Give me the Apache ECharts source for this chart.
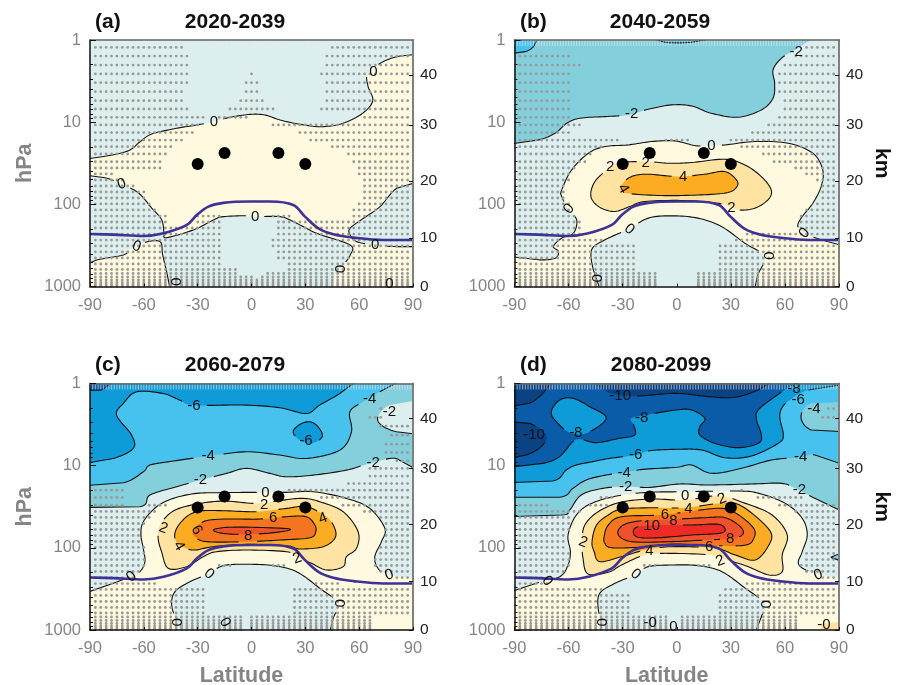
<!DOCTYPE html>
<html><head><meta charset="utf-8">
<style>html,body{margin:0;padding:0;background:#fff}#c{width:903px;height:685px}</style>
<script src="https://cdn.jsdelivr.net/npm/echarts@6/dist/echarts.min.js"></script></head>
<body><div id="c"></div>
<script>
// ---- axis content ----
const LAT_TICKS=[-90,-60,-30,0,30,60,90];
const HPA_TICKS=[1,10,100,1000];
const HPA_MINOR=[2,3,4,5,6,7,8,9,20,30,40,50,60,70,80,90,200,300,400,500,600,700,800,900];
const KM_TICKS=[0,10,20,30,40];
const KM_HPA=[1000,256,52,10.8,2.67];
const PERIODS=['2020-2039','2040-2059','2060-2079','2080-2099'];
const TAGS=['(a)','(b)','(c)','(d)'];
// ---- contour band colours ----
const C={pale:'#DCEFEE',yel:'#FFF9DF',o2:'#FEE3A2',o4:'#FBAC22',o6:'#F5741F',o8:'#F0502A',o10:'#EE2A26',
 t2:'#84CFDC',s4:'#47C2EF',b6:'#0F9BD8',d8:'#0A5BA8',d10:'#0B4282'};
// ---- shared markers: [lat], [hPa] ----
const DOT_LAT=[-30,-15,15,30];
const DOT_HPA=[32.3,23.7,23.7,32.3];
// tropopause [lat, log10 hPa]
const tropopause=[[-90,2.361],[-77,2.369],[-60,2.385],[-49,2.353],[-36,2.251],[-30.5,2.13],[-24,2.028],[-15.7,1.982],[-0.8,1.966],[10.3,1.966],[23.3,2.008],[29.8,2.15],[37.3,2.292],[45.6,2.365],[56.8,2.405],[73.5,2.434],[90,2.434]];
// ---- contours, [lat, log10 hPa] ----
const TL=[-93,-0.03],TR=[93,-0.03],BL=[-93,3.03],BR=[93,3.03];
// panel a
const a_top=[[-93,1.452],[-80.7,1.412],[-68.6,1.347],[-62,1.237],[-55.6,1.144],[-41.7,1.075],[-30.5,1.034],[-21,.994],[-12,.941],[-.8,.905],[7.5,.913],[16,.974],[27,1.026],[39,1.055],[51,1.014],[62,.89],[67.6,.739],[65,.568],[64.4,.426],[69,.325],[75.4,.243],[83,.195],[93,.174],TR,TL];
const a_low=[[-93,1.643],[-81.6,1.676],[-72.3,1.756],[-63,1.862],[-55.6,2.045],[-50,2.19],[-48.7,2.35],[-47.3,2.405],[-32.4,2.312],[-21.2,2.19],[-15.7,2.15],[-.8,2.138],[2,2.15],[15.9,2.15],[23.3,2.21],[36.4,2.353],[55,2.495],[55,2.616],[51.2,2.738],[46.6,2.86],[44.7,3.03],[-45.4,3.03],[-46.9,2.86],[-49.5,2.616],[-51,2.454],[-59.4,2.462],[-66.8,2.535],[-71.4,2.616],[-86.3,2.677],[-93,2.738]];
const a_right=[[54.9,2.292],[62.4,2.17],[71.6,2.028],[80.9,1.805],[93,1.724],[93,2.515],[80.9,2.515],[68.9,2.495],[58.6,2.454],[55,2.373]];
// panel b
const b_m2=[[-93,1.269],[-76.7,1.216],[-67.5,1.135],[-61,1.013],[-53.7,.952],[-39.8,.932],[-26.9,.912],[-15.8,.843],[-2.9,.79],[8.2,.803],[19.2,.892],[34,.94],[46.9,.851],[53.4,.709],[54.3,.527],[53.4,.365],[58,.223],[65.3,.122],[76.4,-.03],TL];
const b_m4a=[[-93,.17],[-84.1,.142],[-79.5,.081],[-76.7,-.03],TL];
const b_m4b=[[-15.8,-.03],[-6.6,.028],[8.2,.028],[22.9,-.03]];
const b_0=[[-63.8,1.824],[-58.3,1.581],[-49,1.378],[-39.8,1.297],[-26.9,1.277],[-14,1.236],[-1.1,1.228],[11.8,1.289],[26.6,1.277],[43.2,1.236],[61.7,1.256],[75.5,1.378],[81,1.581],[80.1,1.783],[75.5,1.986],[69,2.168],[67.2,2.27],[70.9,2.351],[80.1,2.432],[93,2.51],BR,[43.2,3.03],[45,2.857],[48.7,2.634],[37.7,2.472],[24.8,2.27],[11.8,2.168],[-2.9,2.14],[-15.8,2.168],[-26.9,2.302],[-39.8,2.432],[-47.2,2.553],[-46.3,2.797],[-42.6,3.03],BL,[-93,2.634],[-76.7,2.675],[-67.5,2.655],[-65.6,2.574],[-68.4,2.513],[-63.8,2.411],[-57.3,2.351],[-55.5,2.189],[-60.1,2.067],[-63.8,1.905]];
const b_2=[[-47.7,1.864],[-45.4,1.723],[-39.8,1.601],[-32.4,1.5],[-17.7,1.479],[-4.8,1.5],[8.2,1.491],[26.6,1.451],[37.7,1.52],[46.9,1.662],[52.4,1.824],[50.6,1.945],[43.2,2.047],[34,2.067],[24.8,1.994],[4.5,1.954],[-17.7,1.966],[-26,2.027],[-34.3,2.087],[-41.7,2.047],[-46.3,1.966]];
const b_4=[[-31.1,1.804],[-26.9,1.682],[-17.7,1.633],[.8,1.662],[15.5,1.633],[26.6,1.601],[33.1,1.702],[33.4,1.783],[28.4,1.856],[13.7,1.885],[-8.5,1.893],[-27.8,1.864]];
// panel c
const c_m2=[[-93,1.508],[-62.2,1.5],[-56.6,1.358],[-41.7,1.256],[-28.4,1.175],[-13.9,1.094],[-2.8,1.033],[10.2,1.094],[19.5,1.135],[34.4,1.115],[52.9,1.054],[65.9,.973],[80.8,.912],[93,1.06],TR,TL];
const c_m2hole=[[93,.2],[77,.263],[70.5,.405],[72.4,.507],[80.8,.588],[93,.62]];
const c_m4=[[-93,1.244],[-71.4,1.208],[-60.3,1.074],[-56.6,.993],[-43.6,.944],[-24.1,.884],[-2.8,.831],[15.8,.871],[30.6,.912],[49.2,.811],[55.7,.588],[54.8,.345],[62.2,.223],[71.5,.101],[82.6,-.03],TL];
const c_m6=[[-93,.973],[-77,.912],[-65.9,.79],[-66.8,.628],[-75.2,.385],[-71.4,.243],[-64,.101],[-49.2,.122],[-39.9,.203],[-32.5,.263],[-2.8,.263],[15.8,.296],[30.6,.365],[38,.263],[49.2,.122],[58.5,-.03],TL];
const c_m6b=[[23.2,.588],[26.9,.499],[32.5,.466],[37.1,.527],[39.4,.648],[33.4,.73],[26.9,.689]];
const c_m8=[[-93,.081],[-84.4,.081],[-79.8,.02],[-77.9,-.03],TL];
const c_0=[[-93,2.553],[-77,2.432],[-67.7,2.351],[-62.2,2.29],[-59.4,2.168],[-60.3,2.006],[-61.6,1.844],[-60.3,1.682],[-52.9,1.5],[-43.6,1.398],[-30.6,1.337],[-15.8,1.329],[-2.8,1.325],[8.4,1.325],[19.5,1.325],[34.4,1.317],[52.9,1.398],[65.9,1.52],[74.3,1.763],[72.4,1.925],[68.7,2.108],[70.5,2.249],[76.1,2.33],[93,2.38],BR,[43.6,3.03],[45.5,2.857],[48.3,2.675],[38.1,2.493],[25.1,2.29],[12.1,2.217],[-2.8,2.2],[-15.8,2.217],[-24.2,2.318],[-34.3,2.412],[-42.6,2.533],[-44.5,2.695],[-41.7,2.898],[-39.9,3.03],BL];
const c_2=[[-52,1.885],[-51,1.723],[-43.6,1.552],[-31.5,1.471],[-15.8,1.431],[2.8,1.459],[17.6,1.419],[28.8,1.398],[38.1,1.439],[51.1,1.56],[59.4,1.804],[58.5,2.006],[52.9,2.108],[51.1,2.229],[41.8,2.27],[33.4,2.189],[25.1,2.108],[19.5,2.047],[-2.8,2.027],[-19.5,2.047],[-26.9,2.108],[-36.2,2.229],[-46.4,2.249],[-50.1,2.047]];
const c_4=[[-42.7,1.885],[-41.7,1.763],[-36.2,1.621],[-28.8,1.552],[-15.8,1.548],[2.8,1.56],[19.5,1.52],[30.6,1.5],[41.8,1.621],[46.4,1.763],[46.4,1.885],[39.9,1.986],[26.9,2.014],[19.5,1.974],[-2.8,1.958],[-21.3,1.986],[-32.5,2.027],[-39.9,1.966]];
const c_6=[[-32.5,1.804],[-26.9,1.682],[-15.8,1.65],[4.7,1.65],[19.5,1.621],[30.6,1.621],[35.3,1.723],[35.8,1.804],[32.5,1.877],[15.8,1.905],[-2.8,1.925],[-25,1.925],[-31.5,1.864]];
const c_8=[[-21.3,1.783],[-13.9,1.751],[2.8,1.751],[21.4,1.771],[13.9,1.812],[-2.8,1.836],[-15.8,1.824]];
// panel d
const d_m2=[[-93,1.621],[-64,1.601],[-59.4,1.54],[-53,1.357],[-41,1.276],[-28,1.256],[-15,1.264],[1.7,1.223],[17.4,1.235],[41.5,1.223],[58.2,1.215],[65.6,1.276],[74.8,1.377],[93,1.57],TR,TL];
const d_m4=[[-93,1.385],[-65,1.385],[-57.6,1.276],[-50.2,1.174],[-39.1,1.114],[-28.9,1.085],[-18.7,1.045],[-.2,1.02],[8.2,.992],[19.3,1.093],[35.9,1.032],[52.6,.931],[68.3,.899],[76.7,.87],[93,.992],TR,TL];
const d_m4b=[[93,.221],[74.8,.241],[68.9,.404],[74.8,.566],[93,.586]];
const d_m6=[[-93,1.207],[-68.7,1.187],[-61.3,1.053],[-55.7,.992],[-46.5,.951],[-37.2,.911],[-22.4,.87],[-15,.818],[-.2,.801],[13.7,.809],[26.7,.903],[41.5,.882],[56.3,.728],[59.1,.627],[57.2,.424],[58.2,.302],[62.8,.2],[73,.079],[93,.01],TR,TL];
const d_m8=[[-93,1.02],[-74.3,.972],[-65,.89],[-57.6,.708],[-53,.68],[-44.6,.72],[-31.7,.667],[-23.3,.627],[-23.9,.505],[-25.2,.424],[-15,.375],[-.2,.322],[8.2,.322],[15.6,.424],[12.8,.525],[12.8,.627],[21.1,.728],[34,.781],[45.2,.728],[47,.627],[44.3,.444],[45.2,.322],[54.5,.16],[62.8,.039],[69,-.03],TL];
const d_m10a=[[-93,.282],[-81.7,.241],[-74.3,.12],[-68.7,-.03],TL];
const d_m10b=[[-48.3,-.03],[-39,.1],[-29.8,.148],[-20.5,.152],[-.2,.12],[17.4,.16],[32.2,.168],[45.2,.079],[53.5,-.03]];
const d_m10c=[[-93,.465],[-81.7,.485],[-72.4,.627],[-75.2,.769],[-83.5,.87],[-93,.91]];
const d_m6b=[[-69.6,.343],[-65,.201],[-57.6,.18],[-48.3,.282],[-39.1,.424],[-50.2,.606],[-59.4,.598],[-66.8,.465]];
const d_0=[[-93,2.541],[-77.9,2.432],[-64.9,2.351],[-60.3,2.209],[-59,2.047],[-60.3,1.844],[-55.7,1.601],[-47.3,1.459],[-32.5,1.366],[-15.8,1.325],[4.7,1.317],[34.4,1.309],[45.5,1.337],[60.3,1.459],[69.6,1.641],[72.4,1.844],[69.6,2.047],[67.8,2.209],[78,2.322],[93,2.379],BR,[43.6,3.03],[47.3,2.817],[48.8,2.675],[38.1,2.493],[25.1,2.29],[12.1,2.217],[-2.8,2.209],[-15.8,2.229],[-23.2,2.33],[-34.3,2.432],[-42.7,2.553],[-43.6,2.736],[-41.7,2.898],[-39.9,3.03],BL];
const d_2=[[-52.5,1.925],[-51,1.723],[-43.6,1.56],[-31.5,1.447],[-13.9,1.406],[4.7,1.419],[23.2,1.366],[38.1,1.459],[52.9,1.601],[61.3,1.844],[58.5,2.087],[58.5,2.29],[51.1,2.33],[38.1,2.217],[25.1,2.128],[19.5,2.087],[-2.8,2.067],[-17.6,2.087],[-30.6,2.209],[-38,2.298],[-49.2,2.318],[-52,2.128]];
const d_4=[[-47,1.925],[-44.5,1.723],[-38,1.601],[-30.6,1.528],[-13.9,1.512],[4.7,1.512],[23.2,1.459],[32.5,1.459],[41.8,1.581],[52,1.804],[51.1,1.966],[43.6,2.148],[32.5,2.087],[21.4,2.006],[-2.8,1.986],[-17.6,2.027],[-30.6,2.108],[-42.7,2.168],[-45.8,2.047]];
const d_6=[[-40.3,1.864],[-38,1.723],[-30.6,1.621],[-8.3,1.601],[8.4,1.552],[25.1,1.52],[34.4,1.601],[42.7,1.763],[42.7,1.885],[38.1,1.966],[21.4,1.974],[-2.8,1.954],[-21.3,1.994],[-36.2,1.998],[-39.9,1.945]];
const d_8=[[-32.5,1.836],[-29.7,1.723],[-19.5,1.67],[-2.8,1.654],[15.8,1.633],[26.9,1.633],[35.3,1.743],[36.6,1.836],[30.6,1.885],[15.8,1.905],[-2.8,1.925],[-25,1.925]];
const d_10=[[-24.1,1.804],[-21.3,1.743],[-8.3,1.722],[8.4,1.722],[23.2,1.714],[26.9,1.783],[23.2,1.824],[8.4,1.844],[-10.2,1.877],[-21.3,1.872]];
const d_br=[[78.9,3.03],[80.7,2.918],[93,2.898],BR];
const d_rb=[[85.4,2.116],[93,2.047],[93,2.176]];
// layers: [band under the page, fill colour, contour]
const BASE=[C.yel,C.pale,C.pale,C.pale];
const LAYERS=[
 [[C.pale,a_top],[C.pale,a_low],[C.pale,a_right]],
 [[C.t2,b_m2],[C.s4,b_m4a],[C.s4,b_m4b],[C.yel,b_0],[C.o2,b_2],[C.o4,b_4]],
 [[C.t2,c_m2],[C.pale,c_m2hole],[C.s4,c_m4],[C.b6,c_m6],[C.b6,c_m6b],[C.d8,c_m8],[C.yel,c_0],[C.o2,c_2],[C.o4,c_4],[C.o6,c_6],[C.o8,c_8]],
 [[C.t2,d_m2],[C.s4,d_m4],[C.t2,d_m4b],[C.b6,d_m6],[C.d8,d_m8],[C.d10,d_m10a],[C.d10,d_m10b],[C.d10,d_m10c],[C.b6,d_m6b],[C.yel,d_0],[C.o2,d_br],[C.t2,d_rb],[C.o2,d_2],[C.o4,d_4],[C.o6,d_6],[C.o8,d_8],[C.o10,d_10]]
];
// ---- contour labels: [lat, log10 hPa, text, rotation] ----
const labelsA=[[-21,.994,'0',0],[68,.385,'0',0],[-72.3,1.756,'0',-20],[-64,2.515,'0',20],[-42.6,2.941,'0',90],[2,2.15,'0',0],[49,2.787,'0',90],[68.9,2.495,'0',0],[76.9,2.97,'0',0]];
const labelsB=[[66.3,.142,'-2',0],[-25,.904,'-2',0],[19.2,1.285,'0',0],[-37,1.548,'2',0],[-17.3,1.5,'2',0],[3.5,1.662,'4',0],[-29.7,1.812,'4',60],[30.3,2.047,'2',0],[-59.7,2.055,'0',-50],[-26.3,2.302,'0',40],[70.9,2.351,'0',-50],[50.6,2.626,'0',90],[-44.8,2.9,'0',90]];
const labelsC=[[-32.1,.272,'-6',0],[30.3,.697,'-6',0],[65.9,.182,'-4',0],[76.8,.345,'-2',0],[-24.2,.884,'-4',0],[67.8,.965,'-2',0],[-28.4,1.175,'-2',0],[7.8,1.337,'0',0],[7.1,1.471,'2',0],[-49.2,1.763,'2',20],[-30.6,1.783,'6',60],[12.1,1.633,'6',0],[39.9,1.641,'4',-20],[-1.8,1.856,'8',0],[-40.4,1.978,'4',60],[25.5,2.128,'2',-20],[-66.8,2.351,'0',-40],[-23.6,2.318,'0',40],[76.7,2.33,'0',-20],[48.8,2.675,'0',90],[-42.1,2.906,'0',90],[-14.8,2.906,'0',60]];
const labelsD=[[-31.4,.154,'-10',0],[65,.061,'-8',0],[67.4,.203,'-6',0],[76.1,.304,'-4',0],[-19.5,.413,'-8',0],[-56,.596,'-8',0],[-79.2,.628,'-10',0],[-22.8,.863,'-6',0],[68.7,.892,'-4',0],[-29.1,1.082,'-4',0],[-28.4,1.26,'-2',0],[68.1,1.297,'-2',0],[4.7,1.366,'0',0],[25.1,1.406,'2',-20],[6.5,1.528,'4',0],[-6.5,1.601,'6',0],[-1.8,1.67,'8',0],[-13.9,1.735,'10',0],[29.7,1.893,'8',0],[18,1.986,'6',0],[-15.2,2.035,'4',0],[24.1,2.16,'2',-20],[-52,1.933,'2',20],[-22.8,2.322,'0',40],[-71.8,2.403,'0',50],[78.5,2.33,'0',-20],[48.8,2.687,'0',90],[-42.1,2.906,'0',90],[-14.8,2.918,'-0',0],[-1.8,2.959,'0',0],[81.7,2.938,'-0',0]];
const LABELS=[labelsA,labelsB,labelsC,labelsD];
// ---- stippling: model levels (hPa) and, per level, latitude runs ----
const STIP_HPA=[1.23,1.57,2.02,2.59,3.31,4.26,5.48,6.91,8.73,10.8,13.4,16.5,19.9,24.4,30.3,36.1,42.7,50.6,59.8,70.8,83.7,99,117,139,164,194,230,272,321,380,450,532,621,695,766,833,894,946,986];
const STIP_LATS=[-87,-84,-81,-78,-75,-72,-69,-66,-63,-60,-57,-54,-51,-48,-45,-42,-39,-36,-33,-30,-27,-24,-21,-18,-15,-12,-9,-6,-3,0,3,6,9,12,15,18,21,24,27,30,33,36,39,42,45,48,51,54,57,60,63,66,69,72,75,78,81,84,87];
const stipA=[[-87,-39,43,87],[-87,-36,40,87],[-87,-36,40,87],[-87,-36,0,0,37,87],[-87,-36,-3,3,40,87],[-87,-39,-3,3,40,87],[-87,-39,-6,6,40,87],[-87,-36,-12,12,37,87],[-87,-27,-18,-3,62,87],[-87,-30,11,87],[-87,-31,25,87],[-87,-39,33,87],[-87,-45,45,87],[-87,-47,54,87],[-87,-50,57,87],[-87,-50,59,87],[-87,-77,59,87],[-87,-72,62,87],[-87,-65,62,87],[-87,-60,62,87],[-87,-58,62,87],[-87,-55,59,87],[-87,-52,57,87],[-87,-47,-30,-16,10,23,55,87],[-87,-47,-31,-16,14,87],[-87,-18,14,87],[-87,-18,14,87],[-87,-16,11,87],[-87,-16,11,87],[-87,-16,14,87],[-87,-16,14,87],[-87,-16,20,87],[-87,-8,20,87],[-87,-8,9,87],[-87,0,6,87],[-87,87],[-87,87],[-87,87],[-87,87]];
const stipB=[[72,87],[-87,-58,66,87],[-87,-53,58,87],[-87,-58,56,87],[-87,-58,55,87],[-87,-58,55,87],[-87,-58,59,87],[-87,-58,59,87],[-87,-58,56,87],[-87,-53,51,87],[-87,-58,42,87],[-87,-33,-8,6,28,87],[-87,-41,35,87],[-87,-47,47,87],[-87,-50,52,87],[-87,-55,65,87],[-87,-58,71,87],[-87,-60,76,87],[-87,-63,80,87],[-87,-63,80,87],[-87,-63,80,87],[-87,-60,76,87],[-87,-58,72,87],[-87,-55,68,87],[-87,-53,68,87],[-87,-53,68,87],[-87,-53,38,87],[-87,-40,33,87],[-87,-24,23,87],[-87,-24,23,87],[-87,-24,23,87],[-87,-24,23,87],[-87,-24,23,87],[-87,-12,12,87],[-87,-12,12,87],[-87,-12,12,87],[-87,-12,12,87],[-87,-12,12,87],[-87,-12,12,87]];
const stipC=[[],[],[70,72],[65,72],[71,87],[77,87],[75,87],[75,87],[81,87],[64,87],[64,87],[53,87],[-87,-71,19,87],[-87,-71,38,87],[-87,-71,-58,-47,49,87],[-87,-53,62,87],[-87,-57,70,87],[-87,-60,73,87],[-87,-62,75,87],[-87,-63,75,87],[-87,-63,73,87],[-87,-60,70,87],[-87,-60,70,87],[-87,-59,68,87],[-87,-59,-18,-10,12,19,68,87],[-87,-62,71,87],[-87,-64,80,87],[-87,-53,34,50],[-87,-26,23,87],[-87,-26,23,87],[-87,-26,23,87],[-87,-26,23,87],[-87,-26,23,87],[-87,-6,0,66],[-87,-6,0,66],[-87,-6,0,66],[-87,-6,0,66],[-87,-6,0,66],[-87,-6,0,66]];
const stipD=[[],[],[82,87],[80,87],[],[],[],[],[],[],[],[],[34,36],[-43,-36,45,70],[-87,-72,-50,-37,56,87],[-87,-53,65,87],[-87,-60,70,87],[-87,-60,73,87],[-87,-60,73,87],[-87,-63,75,87],[-87,-63,75,87],[-87,-63,75,87],[-87,-60,72,87],[-87,-60,70,87],[-87,-60,-18,-10,12,19,68,87],[-87,-63,72,87],[-87,-71,80,87],[-87,-71,38,85],[-87,-40,25,87],[-87,-26,23,87],[-87,-26,23,87],[-87,-26,23,87],[-87,-26,23,87],[-87,-4,3,66],[-87,-4,3,66],[-87,-4,3,66],[-87,-4,3,66],[-87,-4,3,66],[-87,-4,3,66]];
const STIP=[stipA,stipB,stipC,stipD];
// model-top hatching: latitude run per panel
const HATCH_FROM=[-39,-90,-90,-90];

// ---- layout ----
const GRIDS=[{left:90,top:40,width:323,height:246.5},{left:514.5,top:40,width:324.5,height:246.5},{left:90,top:383.5,width:323,height:246.5},{left:514.5,top:383.5,width:324.5,height:246.5}];
const GRAY='#858585';
const FONT='"Liberation Sans",Arial,Helvetica,sans-serif';
const hpa=v=>Math.pow(10,v);
const off=p=>p[0]<=-90||p[0]>=90||p[1]<=0||p[1]>=3;

function densify(raw){ // closed Catmull-Rom through vertices projected by the axes; off-plot legs stay straight
  const n=raw.length,out=[];
  for(let i=0;i<n;i++){
    const a=raw[(i-1+n)%n].px,b=raw[i].px,c=raw[(i+1)%n].px,d=raw[(i+2)%n].px;
    if(off(raw[i].v)||off(raw[(i+1)%n].v)){out.push(b);continue;}
    for(let k=0;k<10;k++){const t=k/10,t2=t*t,t3=t2*t;
      out.push([0.5*(2*b[0]+(c[0]-a[0])*t+(2*a[0]-5*b[0]+4*c[0]-d[0])*t2+(3*b[0]-a[0]-3*c[0]+d[0])*t3),
                0.5*(2*b[1]+(c[1]-a[1])*t+(2*a[1]-5*b[1]+4*c[1]-d[1])*t2+(3*b[1]-a[1]-3*c[1]+d[1])*t3)]);}
  }
  return out;
}
function contourSeries(i){
  const layers=LAYERS[i],labs=LABELS[i];
  return {type:'custom',xAxisIndex:i*2,yAxisIndex:i*3,clip:true,z:2,silent:true,data:layers.map((_,k)=>[k]),
    renderItem(params,api){
      const [col,pts]=layers[params.dataIndex];
      const raw=pts.map(v=>({v,px:api.coord([v[0],hpa(v[1])])}));
      const dense=densify(raw);
      const gaps=labs.map(l=>({p:api.coord([l[0],hpa(l[1])]),rx:4.5+4*l[2].length,ry:8.5}));
      const runs=[];let run=[];
      dense.concat([dense[0]]).forEach(q=>{
        const hit=gaps.some(g=>{const dx=(q[0]-g.p[0])/g.rx,dy=(q[1]-g.p[1])/g.ry;return dx*dx+dy*dy<1;});
        if(hit){if(run.length>1)runs.push(run);run=[];}else run.push(q);
      });
      if(run.length>1)runs.push(run);
      const children=[{type:'polygon',shape:{points:dense},style:{fill:col,stroke:null}}];
      runs.forEach(r=>children.push({type:'polyline',shape:{points:r},style:{fill:null,stroke:'#111',lineWidth:1.1}}));
      return {type:'group',children};
    }};
}
function baseSeries(i){
  return {type:'custom',xAxisIndex:i*2,yAxisIndex:i*3,clip:true,z:1,silent:true,data:[[0]],
    renderItem(params,api){
      const a=api.coord([-90,1]),b=api.coord([90,1000]);
      return {type:'rect',shape:{x:a[0],y:a[1],width:b[0]-a[0],height:b[1]-a[1]},style:{fill:BASE[i]}};
    }};
}
function stipData(i){
  const out=[];
  STIP[i].forEach((runs,r)=>{
    for(let j=0;j<runs.length;j+=2)STIP_LATS.forEach(lat=>{if(lat>=runs[j]&&lat<=runs[j+1])out.push([lat,STIP_HPA[r]]);});
  });
  return out;
}
function hatchData(i){
  const out=[];
  for(let k=0;k<=120;k++){const lat=-90+k*1.5;if(lat>=HATCH_FROM[i])out.push([lat,1.09]);}
  return out;
}
const opt={animation:false,backgroundColor:'#fff',grid:GRIDS.map(g=>({...g,containLabel:false,outerBoundsMode:'none'})),
 title:[],xAxis:[],yAxis:[],series:[],textStyle:{fontFamily:FONT}};
const tagX=[95,520,95,520],tagY=[12,12,355,355],perX=[235,660,235,661];
GRIDS.forEach((g,i)=>{
  opt.title.push({text:TAGS[i],left:tagX[i],top:tagY[i],padding:0,textStyle:{fontFamily:FONT,fontSize:21,fontWeight:'bold',color:'#111'}});
  opt.title.push({text:PERIODS[i],left:perX[i],top:tagY[i],padding:0,textAlign:'center',textStyle:{fontFamily:FONT,fontSize:21,fontWeight:'bold',color:'#111'}});
  const bottom=i>=2;
  opt.xAxis.push({gridIndex:i,type:'value',min:-90,max:90,interval:30,position:'bottom',z:10,
    axisLine:{onZero:false,lineStyle:{color:'#111',width:1.5}},axisTick:{inside:true,length:3,lineStyle:{color:'#111'}},splitLine:{show:false},
    axisLabel:{color:GRAY,fontSize:16.5,fontFamily:FONT,margin:10,hideOverlap:false,showMinLabel:true,showMaxLabel:true,customValues:LAT_TICKS},
    name:bottom?'Latitude':'',nameLocation:'middle',nameGap:35,nameTextStyle:{color:GRAY,fontSize:21.5,fontWeight:'bold',fontFamily:FONT,padding:[0,20,0,0]}});
  opt.xAxis.push({gridIndex:i,type:'value',min:-90,max:90,position:'top',z:10,axisLine:{onZero:false,lineStyle:{color:'#666',width:1.5}},axisTick:{show:false},axisLabel:{show:false},splitLine:{show:false}});
  const left=i%2===0;
  opt.yAxis.push({gridIndex:i,type:'log',logBase:10,min:1,max:1000,inverse:true,position:'left',z:10,
    axisLine:{onZero:false,lineStyle:{color:'#111',width:1.5}},axisTick:{inside:true,length:6,lineStyle:{color:'#111'},customValues:HPA_TICKS},splitLine:{show:false},minorTick:{show:false},
    axisLabel:{color:GRAY,fontSize:16.5,fontFamily:FONT,margin:9,customValues:HPA_TICKS,formatter:v=>String(Math.round(v))},
    name:left?'hPa':'',nameLocation:'middle',nameGap:54,nameRotate:90,nameTextStyle:{color:GRAY,fontSize:21.5,fontWeight:'bold',fontFamily:FONT}});
  opt.yAxis.push({gridIndex:i,type:'log',logBase:10,min:1,max:1000,inverse:true,position:'left',z:10,
    axisLine:{show:false,onZero:false},axisTick:{inside:true,length:3,lineStyle:{color:'#111'},customValues:HPA_MINOR},axisLabel:{show:false},splitLine:{show:false}});
  opt.yAxis.push({gridIndex:i,type:'log',logBase:10,min:1,max:1000,inverse:true,position:'right',z:10,
    axisLine:{onZero:false,lineStyle:{color:'#808080',width:2}},axisTick:{inside:true,length:4,lineStyle:{color:'#111'},customValues:KM_HPA},splitLine:{show:false},
    axisLabel:{color:'#222',fontSize:15.5,fontFamily:FONT,margin:7,customValues:KM_HPA,formatter:v=>{const k=KM_HPA.findIndex(h=>Math.abs(h-v)<1e-6*h+1e-6);return k>=0?String(KM_TICKS[k]):'';}},
    name:left?'':'km',nameLocation:'middle',nameGap:32,nameRotate:-90,nameTextStyle:{color:'#111',fontSize:21,fontWeight:'bold',fontFamily:FONT}});
  opt.series.push(baseSeries(i),contourSeries(i));
  opt.series.push({type:'scatter',xAxisIndex:i*2,yAxisIndex:i*3,symbol:'rect',symbolSize:[1.2,6],silent:true,clip:true,z:3,itemStyle:{color:'rgba(225,232,240,0.55)',opacity:1},data:hatchData(i)});
  opt.series.push({type:'scatter',xAxisIndex:i*2,yAxisIndex:i*3,symbol:'circle',symbolSize:2.8,silent:true,clip:true,z:3,itemStyle:{color:'#999',opacity:1},data:stipData(i)});
  opt.series.push({type:'line',xAxisIndex:i*2,yAxisIndex:i*3,silent:true,clip:true,z:4,smooth:0.35,showSymbol:false,lineStyle:{color:'#3F3294',width:2.6},data:tropopause.map(p=>[p[0],hpa(p[1])])});
  opt.series.push({type:'custom',xAxisIndex:i*2,yAxisIndex:i*3,silent:true,z:5,data:LABELS[i].map((_,k)=>[k]),
    renderItem(params,api){const l=LABELS[i][params.dataIndex],p=api.coord([l[0],hpa(l[1])]);
      return {type:'text',x:p[0],y:p[1],rotation:-l[3]*Math.PI/180,style:{text:l[2],fontFamily:FONT,fontSize:15,fill:'#111',align:'center',verticalAlign:'middle'}};}});
  opt.series.push({type:'scatter',xAxisIndex:i*2,yAxisIndex:i*3,symbolSize:12,silent:true,z:6,itemStyle:{color:'#000',opacity:1},data:DOT_LAT.map((x,k)=>[x,DOT_HPA[k]])});
});
const chart=echarts.init(document.getElementById('c'),null,{renderer:'canvas'});
chart.setOption(opt);
</script></body></html>
